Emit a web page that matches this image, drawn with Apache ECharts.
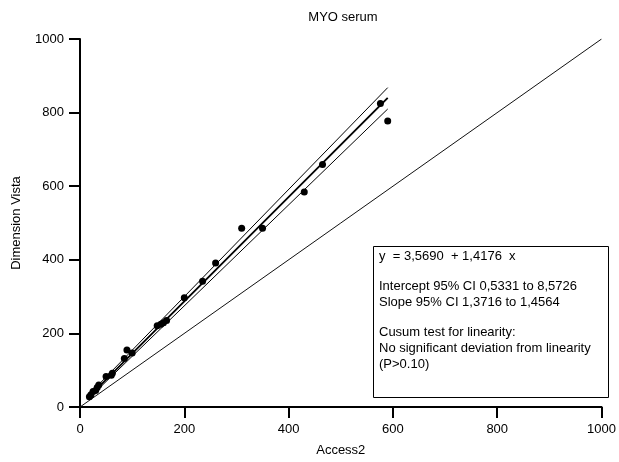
<!DOCTYPE html>
<html>
<head>
<meta charset="utf-8">
<script src="https://cdn.jsdelivr.net/npm/echarts@6/dist/echarts.min.js"></script>
<style>html,body{margin:0;padding:0;background:#fff}#c{width:619px;height:462px}</style>
</head>
<body>
<div id="c"></div>
<script>
// Measured points (Access2, Dimension Vista)
var accessX = [18, 21, 25, 30, 33, 36, 50, 60, 62, 85, 90, 100, 148, 155, 160, 166, 200, 235, 260, 310, 350, 430, 465, 576, 590];
var vistaY  = [28, 33, 42, 45, 53, 60, 83, 86, 92, 132, 155, 147, 221, 225, 229, 235, 297, 342, 391, 486, 486, 584, 659, 825, 777];
// Regression: intercept, slope (fit, lower CI, upper CI)
var fitIntercepts = [3.5690, 0.5331, 8.5726];
var fitSlopes     = [1.4176, 1.3716, 1.4564];
var fitRange = [15, 590];
var identityRange = [0, 1000];
var axisTicks = [0, 200, 400, 600, 800, 1000];
var boxLines = [
  'y  = 3,5690  + 1,4176  x',
  'Intercept 95% CI 0,5331 to 8,5726',
  'Slope 95% CI 1,3716 to 1,4564',
  'Cusum test for linearity:',
  'No significant deviation from linearity',
  '(P>0.10)'
];

var FONT = '"Liberation Sans", Arial, Helvetica, sans-serif';
var points = accessX.map(function (x, i) { return [x, vistaY[i]]; });
function lineData(k) {
  return fitRange.map(function (x) { return [x, fitIntercepts[k] + fitSlopes[k] * x]; });
}
var lineSeries = fitIntercepts.map(function (b, k) {
  return {
    type: 'line', data: lineData(k), symbol: 'none', silent: true, z: 2,
    lineStyle: { color: '#000', width: k === 0 ? 1.8 : 1 }
  };
});

var chart = echarts.init(document.getElementById('c'), null, { renderer: 'canvas' });
var lineTops = [256, 286, 302, 332, 348, 364];
var graphics = [
  { type: 'text', x: 343, y: 17, style: { text: 'MYO serum', font: '13px ' + FONT, fill: '#000', textAlign: 'center', textVerticalAlign: 'middle' } },
  { type: 'rect', shape: { x: 373.5, y: 246.5, width: 235, height: 151 }, style: { fill: '#fff', stroke: '#000', lineWidth: 1 }, z: 5 }
];
boxLines.forEach(function (t, i) {
  graphics.push({ type: 'text', x: 379, y: lineTops[i], z: 6, style: { text: t, font: '13px ' + FONT, fill: '#000', textAlign: 'left', textVerticalAlign: 'middle' } });
});

var axisCommon = {
  type: 'value', min: axisTicks[0], max: axisTicks[axisTicks.length - 1], interval: 200,
  splitLine: { show: false },
  axisLine: { show: true, lineStyle: { color: '#000', width: 2 } },
  axisTick: { show: true, inside: false, length: 11, lineStyle: { color: '#000', width: 2 } },
  axisLabel: { color: '#000', fontSize: 13, fontFamily: FONT, margin: 16, formatter: function (v) { return String(v); } },
  nameTextStyle: { color: '#000', fontSize: 13, fontFamily: FONT }
};

chart.setOption({
  animation: false,
  backgroundColor: '#fff',
  grid: { left: 80, right: 14, top: 39, bottom: 54, containLabel: false },
  xAxis: Object.assign({}, axisCommon, { name: 'Access2', nameLocation: 'middle', nameGap: 37 }),
  yAxis: Object.assign({}, axisCommon, { name: 'Dimension Vista', nameLocation: 'middle', nameGap: 57 }),
  series: [
    {
      type: 'line', data: identityRange.map(function (v) { return [v, v]; }), symbol: 'none', silent: true, z: 2,
      lineStyle: { color: '#111', width: 1 }
    }
  ].concat(lineSeries).concat([
    {
      type: 'scatter', data: points, symbol: 'circle', symbolSize: 7, z: 3,
      itemStyle: { color: '#000', opacity: 1 }
    }
  ]),
  graphic: graphics
});
</script>
</body>
</html>
